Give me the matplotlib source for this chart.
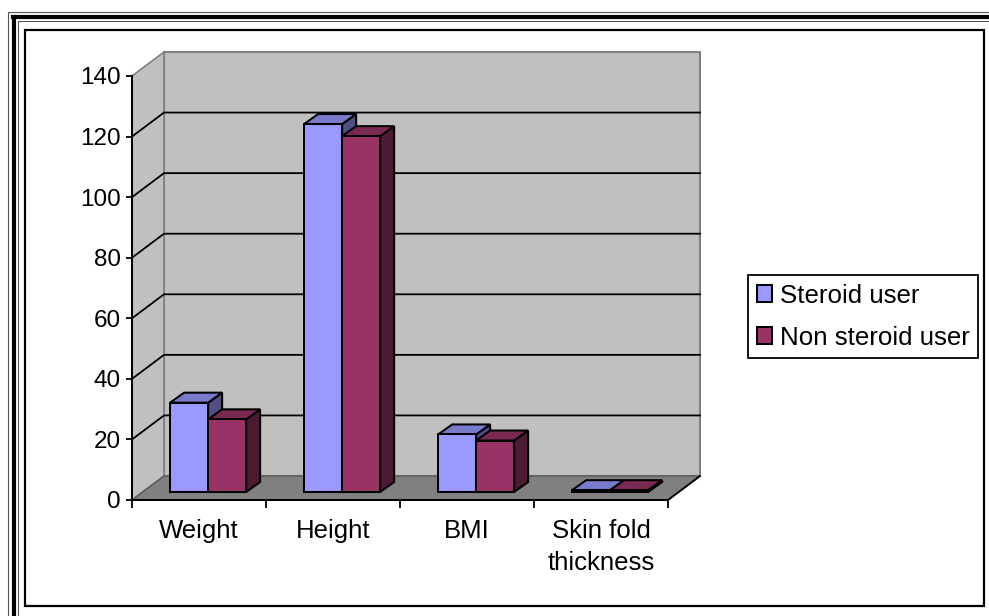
import matplotlib
matplotlib.use('Agg')
import matplotlib.pyplot as plt
from matplotlib.patches import Polygon, Patch, Rectangle
from matplotlib.transforms import Affine2D

plt.rcParams['font.family'] = ['Liberation Sans', 'DejaVu Sans']

categories = ['Weight', 'Height', 'BMI', 'Skin fold\nthickness']
steroid = [29.5, 121.5, 19, 0.6]
non_steroid = [24, 117.5, 17, 0.6]
series_names = ['Steroid user', 'Non steroid user']
yticks = [0, 20, 40, 60, 80, 100, 120, 140]

W, H = 989, 616
BLUE = ['#9999FF', '#7A7ACC', '#4F4F85']  # front, top, side
MAROON = ['#993366', '#7A2952', '#4D1A33']
lw_px = 1.45

fig = plt.figure(figsize=(W / 100, H / 100), dpi=100, facecolor='white')

# page frame, in pixel coordinates
bg = fig.add_axes([0, 0, 1, 1], zorder=0)
bg.set_xlim(0, W)
bg.set_ylim(H, 0)
bg.axis('off')
bg.plot([7.5, 7.5], [H, 12], color='#555555', lw=0.8)
bg.plot([7.5, W], [12, 12], color='#555555', lw=0.8)
bg.plot([14, 14], [H, 17], color='black', lw=3.0)
bg.plot([13, W], [17, 17], color='black', lw=3.0)
bg.plot([17.5, 17.5], [H, 21], color='#555555', lw=0.8)
bg.plot([17.5, W], [21, 21], color='#555555', lw=0.8)
bg.add_patch(Rectangle((24.5, 29.5), 959.5, 576.5, fill=False, ec='black', lw=1.6))

# chart axes = front plane of the 3d box
ax = fig.add_axes([132 / W, 1 - 500 / H, 536 / W, 424 / H], zorder=1)
ax.patch.set_visible(False)
ax.set_xlim(0, 4)
ax.set_ylim(0, 140)
for s in ['top', 'right']:
    ax.spines[s].set_visible(False)
for s in ['left', 'bottom']:
    ax.spines[s].set_linewidth(lw_px)


def depth(dx, dy):
    return ax.transData + Affine2D().translate(dx, dy)


BACK = depth(32, 24)
FRONT_BAR = depth(10.67, 8)
BACK_BAR = depth(24.67, 18)
front = ax.transData

# back wall, side wall, floor
ax.add_patch(Polygon([(0, 0), (4, 0), (4, 140), (0, 140)], transform=BACK,
                     fc='#C0C0C0', ec='#808080', lw=1.5, clip_on=False, zorder=1))


def skew_poly(p0, p1, color, edge='#808080', z=1):
    # quad between a segment on the front plane and the same one on the back wall
    pts = [front.transform(p0), front.transform(p1), BACK.transform(p1), BACK.transform(p0)]
    ax.add_patch(Polygon(pts, transform=None, fc=color, ec=edge, lw=1.2, clip_on=False, zorder=z))


skew_poly((0, 0), (0, 140), '#C0C0C0')
skew_poly((0, 0), (4, 0), '#808080', edge='#606060')

# grid lines on the two walls
for v in yticks[1:-1]:
    a, b = front.transform((0, v)), BACK.transform((0, v))
    c = BACK.transform((4, v))
    ax.plot([a[0], b[0], c[0]], [a[1], b[1], c[1]], transform=None, color='black',
            lw=1.3, clip_on=False, zorder=2)

# right floor edge
a, b = front.transform((4, 0)), BACK.transform((4, 0))
ax.plot([a[0], b[0]], [a[1], b[1]], transform=None, color='black', lw=1.3, clip_on=False, zorder=2)

bar_w = 38 / 134
gap = 0.205


def draw_bar(x, v, cols, z):
    x0, x1 = x, x + bar_w
    f0, f1 = FRONT_BAR, BACK_BAR
    quad = lambda pts: [t.transform(p) for t, p in pts]
    side = quad([(f0, (x1, 0)), (f1, (x1, 0)), (f1, (x1, v)), (f0, (x1, v))])
    top = quad([(f0, (x0, v)), (f0, (x1, v)), (f1, (x1, v)), (f1, (x0, v))])
    fr = quad([(f0, (x0, 0)), (f0, (x1, 0)), (f0, (x1, v)), (f0, (x0, v))])
    for pts, c in zip([side, top, fr], [cols[2], cols[1], cols[0]]):
        ax.add_patch(Polygon(pts, transform=None, fc=c, ec='black', lw=lw_px,
                             joinstyle='miter', clip_on=False, zorder=z))


for i in range(len(categories)):
    draw_bar(i + gap, steroid[i], BLUE, 3 + i)
    draw_bar(i + gap + bar_w, non_steroid[i], MAROON, 3.5 + i)

# axes ticks and labels
ax.set_yticks(yticks)
ax.tick_params(axis='y', labelsize=17.5, length=4, width=1.3, pad=4)
ax.set_xticks(range(5))
ax.set_xticklabels([])
ax.set_xticks([i + 0.5 for i in range(4)], minor=True)
ax.set_xticklabels(categories, minor=True, fontsize=18.5, linespacing=1.45)
ax.tick_params(axis='x', which='major', length=6, width=1.3)
ax.tick_params(axis='x', which='minor', length=0, pad=13.5)

# legend
handles = [Patch(fc=BLUE[0], ec='black', lw=lw_px, label=series_names[0]),
           Patch(fc=MAROON[0], ec='black', lw=lw_px, label=series_names[1])]
leg = ax.legend(handles=handles, loc='upper left',
                bbox_to_anchor=(748 / W, 1 - 275 / H), bbox_transform=fig.transFigure,
                fontsize=18.6, frameon=True, fancybox=False, framealpha=1, edgecolor='black',
                borderaxespad=0, handlelength=0.6, handleheight=0.6, handletextpad=0.3,
                labelspacing=0.7, borderpad=0.33)
leg.get_frame().set_linewidth(1.3)
leg.set_zorder(20)

fig.savefig('out.png', dpi=100)
